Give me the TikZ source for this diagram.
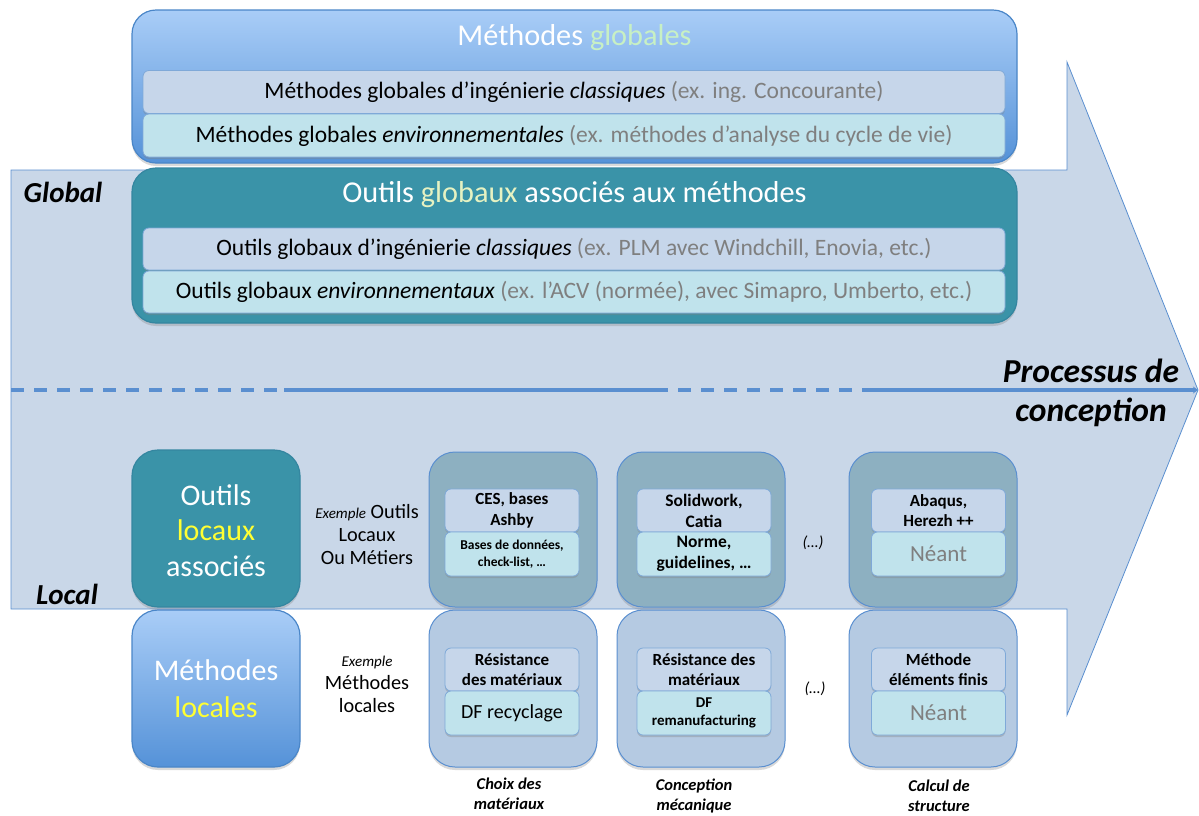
\documentclass[tikz,border=0pt]{standalone}
\usepackage{fontspec}
\setmainfont{Carlito}
\usetikzlibrary{shadows,arrows.meta}
\definecolor{arrowfill}{HTML}{C9D7E8}
\definecolor{arrowline}{HTML}{5A8FD0}
\definecolor{methtop}{HTML}{A9CDF7}
\definecolor{methbot}{HTML}{5592D8}
\definecolor{methline}{HTML}{4A86C8}
\definecolor{teal}{HTML}{3A93A8}
\definecolor{tealline}{HTML}{3486A0}
\definecolor{rowA}{HTML}{C6D6EA}
\definecolor{rowB}{HTML}{C0E3EC}
\definecolor{rowline}{HTML}{7FA9D8}
\definecolor{coltop}{HTML}{8DB0C1}
\definecolor{colbot}{HTML}{B5CAE2}
\definecolor{exgrey}{HTML}{7F7F7F}
\definecolor{lgreen}{HTML}{C8F0C4}
\definecolor{lyellow}{HTML}{E6F2C2}
\definecolor{yel}{HTML}{FFFF33}
\newcommand\fsz[2]{\fontsize{#1}{#2}\selectfont}
\tikzset{
  shad/.style={drop shadow={opacity=0.3, shadow xshift=0pt, shadow yshift=-3pt}},
  methbox/.style={shad, rounded corners=24pt, draw=methline, line width=1.2pt, top color=methtop, bottom color=methbot},
  tealbox/.style={shad, rounded corners=24pt, draw=tealline, line width=1.2pt, fill=teal},
  coltopbox/.style={shad, rounded corners=26pt, draw=arrowline, line width=1pt, fill=coltop, minimum width=168pt, minimum height=155pt},
  colbotbox/.style={shad, rounded corners=26pt, draw=arrowline, line width=1pt, fill=colbot, minimum width=168pt, minimum height=157pt},
  rowbase/.style={drop shadow={opacity=0.35, shadow xshift=0pt, shadow yshift=-2pt}, draw=rowline, line width=0.8pt, rounded corners=6pt, inner sep=0pt, align=center},
  rowa/.style={rowbase, fill=rowA, minimum width=862pt, minimum height=43pt, font=\fsz{23.5}{27}},
  rowb/.style={rowbase, fill=rowB, minimum width=862pt, minimum height=43pt, font=\fsz{23.5}{27}},
  sma/.style={rowbase, fill=rowA, minimum width=134pt, minimum height=43pt},
  smb/.style={rowbase, fill=rowB, minimum width=134pt, minimum height=44pt},
  title/.style={text=white, font=\fsz{30.3}{36}},
  sidelabel/.style={font=\fsz{29}{34}\bfseries\itshape},
  collabel/.style={align=center, font=\fsz{16.5}{20}\bfseries\itshape},
  midlabel/.style={align=center, font=\fsz{20.3}{23}},
}
\begin{document}
\begin{tikzpicture}[x=1pt,y=-1pt]
\useasboundingbox (0,0) rectangle (1199,815);
% big process arrow
\draw[draw=arrowline, line width=0.8pt, fill=arrowfill]
  (11,170) -- (1067,170) -- (1067,62) -- (1198,390) -- (1067,715) -- (1067,609) -- (11,609) -- cycle;
% separating line
\coordinate (ls) at (11,390);
\coordinate (le) at (1198,390);
\coordinate (s1a) at (284,390);
\coordinate (s1b) at (664,390);
\coordinate (s2a) at (871,390);
\draw[arrowline, line width=3.2pt, dash pattern=on 13pt off 10pt] (ls) -- (s2a);
\draw[arrowline, line width=3.2pt] (s1a) -- (s1b);
\draw[arrowline, line width=3.2pt, -{Stealth[length=5pt,width=7pt]}] (s2a) -- (le);

% global methods
\node[methbox, minimum width=885pt, minimum height=153pt] (mg) at (574.5,86.5) {};
\node[title] (mgt) at (574.5,38) {Méthodes \textcolor{lgreen}{globales}};
\node[rowa] (mg1) at (574,92) {Méthodes globales d’ingénierie \textit{classiques} \textcolor{exgrey}{(ex. ing. Concourante)}};
\node[rowb] (mg2) at (574,135.5) {Méthodes globales \textit{environnementales} \textcolor{exgrey}{(ex. méthodes d’analyse du cycle de vie)}};

% global tools
\node[tealbox, minimum width=885pt, minimum height=155pt] (og) at (574.5,245.5) {};
\node[title] (ogt) at (574.5,195) {Outils \textcolor{lyellow}{globaux} associés aux méthodes};
\node[rowa, minimum height=42pt] (og1) at (574,249) {Outils globaux d’ingénierie \textit{classiques} \textcolor{exgrey}{(ex. PLM avec Windchill, Enovia, etc.)}};
\node[rowb, minimum height=42pt] (og2) at (574,292) {Outils globaux \textit{environnementaux} \textcolor{exgrey}{(ex. l’ACV (normée), avec Simapro, Umberto, etc.)}};

% side labels
\node[sidelabel] (glob) at (63,192) {Global};
\node[sidelabel] (loc) at (67,594) {Local};
\node[align=center, font=\fsz{33.5}{39.5}\bfseries\itshape] (proc) at (1091,393) {Processus de\\conception};

% local big boxes
\node[tealbox, rounded corners=26pt, minimum width=168pt, minimum height=157pt, align=center, text=white, font=\fsz{30}{35.5}] (ol) at (216,528.5) {\strut Outils\\\textcolor{yel}{locaux}\\associés};
\node[methbox, rounded corners=26pt, minimum width=168pt, minimum height=157pt, align=center, text=white, font=\fsz{30}{37}] (ml) at (216,688.5) {Méthodes\\\textcolor{yel}{locales}};

% middle labels
\node[midlabel] (exo) at (367,535) {{\fsz{15}{23}\itshape Exemple} Outils\\Locaux\\Ou Métiers};
\node[midlabel] (exm) at (367,684) {{\fsz{15}{21}\itshape Exemple}\\Méthodes\\locales};

% column boxes
\node[coltopbox] (c1t) at (513,529.5) {};
\node[coltopbox] (c2t) at (701,529.5) {};
\node[coltopbox] (c3t) at (933,529.5) {};
\node[colbotbox] (c1b) at (513,688.5) {};
\node[colbotbox] (c2b) at (701,688.5) {};
\node[colbotbox] (c3b) at (933,688.5) {};

% inner rows, top
\node[sma, font=\fsz{17}{20.5}\bfseries] (c1t1) at (512,510.5) {CES, bases\\Ashby};
\node[smb, font=\fsz{13.5}{17}\bfseries] (c1t2) at (512,554) {Bases de données,\\check-list, …};
\node[sma, font=\fsz{17.5}{21}\bfseries] (c2t1) at (704,510.5) {Solidwork,\\Catia};
\node[smb, font=\fsz{17.5}{21.5}\bfseries] (c2t2) at (704,554) {Norme,\\guidelines, …};
\node[sma, font=\fsz{17}{20.5}\bfseries] (c3t1) at (938.5,510.5) {Abaqus,\\Herezh ++};
\node[smb, font=\fsz{23}{26}, text=exgrey] (c3t2) at (938.5,554) {Néant};

% inner rows, bottom
\node[sma, font=\fsz{17}{20.5}\bfseries] (c1b1) at (512,669.5) {Résistance\\des matériaux};
\node[smb, font=\fsz{20}{24}] (c1b2) at (512,713) {DF recyclage};
\node[sma, font=\fsz{17}{20.5}\bfseries] (c2b1) at (704,669.5) {Résistance des\\matériaux};
\node[smb, font=\fsz{15}{17.5}\bfseries] (c2b2) at (704,713) {DF\\remanufacturing};
\node[sma, font=\fsz{17}{20.5}\bfseries] (c3b1) at (938.5,669.5) {Méthode\\éléments finis};
\node[smb, font=\fsz{23}{26}, text=exgrey] (c3b2) at (938.5,713) {Néant};

% ellipses
\node[font=\fsz{16}{20}\itshape] (dt) at (813,543) {(…)};
\node[font=\fsz{16}{20}\itshape] (db) at (815,689) {(…)};

% column labels
\node[collabel] (l1) at (509,794) {Choix des\\matériaux};
\node[collabel] (l2) at (694,796) {Conception\\mécanique};
\node[collabel] (l3) at (939,796) {Calcul de\\structure};
\end{tikzpicture}
\end{document}
